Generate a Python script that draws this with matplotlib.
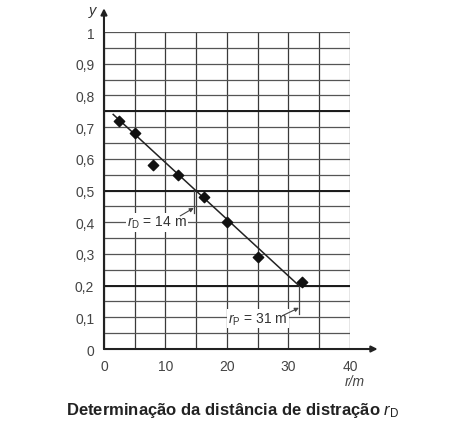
import numpy as np
import matplotlib.pyplot as plt

plt.rcParams['font.family'] = ['Liberation Sans', 'DejaVu Sans']
plt.rcParams['mathtext.fontset'] = 'custom'
plt.rcParams['mathtext.rm'] = 'Liberation Sans'
plt.rcParams['mathtext.it'] = 'Liberation Sans:italic'
plt.rcParams['mathtext.bf'] = 'Liberation Sans:bold'

# measured points
r_pts = [2.5, 5, 8, 12, 16.2, 20, 25, 32.2]
y_pts = [0.72, 0.68, 0.58, 0.55, 0.48, 0.40, 0.29, 0.21]

# fitted line ends
line_r = [1.5, 31.7]
line_y = [0.74, 0.20]

x_ticks = [0, 10, 20, 30, 40]
y_ticks = [0, 0.1, 0.2, 0.3, 0.4, 0.5, 0.6, 0.7, 0.8, 0.9, 1.0]
y_labels = ['0', '0,1', '0,2', '0,3', '0,4', '0,5', '0,6', '0,7', '0,8', '0,9', '1']
thick_y = [0.2, 0.5, 0.75]

r_D = 14.6
r_P = 31.7

fig = plt.figure(figsize=(4.69, 4.39), dpi=100)
ax = fig.add_axes([0.2217, 0.2027, 0.5245, 0.7221])

for xv in np.arange(0, 41, 5):
    ax.axvline(xv, color='#3a3a3a', lw=0.9, zorder=1)
for yv in np.arange(0, 1.001, 0.05):
    ax.axhline(yv, color='#555555', lw=0.9, zorder=1)
for yv in thick_y:
    ax.axhline(yv, color='#1a1a1a', lw=1.4, zorder=1)

ax.set_xlim(0, 40)
ax.set_ylim(0, 1)
for s in ax.spines.values():
    s.set_visible(False)

ax.set_xticks(x_ticks)
ax.set_yticks(y_ticks)
ax.set_yticklabels(y_labels)
ax.tick_params(length=0, labelsize=10, colors='#444444', pad=7)

# axes with arrows
ax.annotate('', xy=(44.5, 0), xytext=(0, 0), annotation_clip=False,
            arrowprops=dict(arrowstyle='-|>', color='#222222', lw=1.5,
                            mutation_scale=9, shrinkA=0, shrinkB=0))
ax.annotate('', xy=(0, 1.075), xytext=(0, 0), annotation_clip=False,
            arrowprops=dict(arrowstyle='-|>', color='#222222', lw=1.5,
                            mutation_scale=9, shrinkA=0, shrinkB=0))
ax.text(-1.2, 1.07, 'y', style='italic', fontsize=10.5, color='#333333',
        ha='right', va='center')
ax.text(40.8, -0.1, 'r/m', style='italic', fontsize=10, color='#444444',
        ha='center', va='center')

ax.plot(line_r, line_y, color='#222222', lw=1.1, zorder=3)
ax.scatter(r_pts, y_pts, marker='D', s=28, color='#111111', zorder=4)

# r_D marker
ax.plot([r_D, r_D], [0.5, 0.43], color='#444444', lw=0.9, zorder=3)
ax.text(8.6, 0.40, r'$r_{\mathrm{D}}$ = 14 m', fontsize=10, color='#333333',
        ha='center', va='center', zorder=5,
        bbox=dict(facecolor='white', edgecolor='none', pad=1))
ax.annotate('', xy=(r_D, 0.445), xytext=(12.4, 0.42),
            arrowprops=dict(arrowstyle='-|>', color='#444444', lw=0.8,
                            mutation_scale=6, shrinkA=0, shrinkB=0), zorder=5)

# r_P marker
ax.plot([r_P, r_P], [0.2, 0.11], color='#444444', lw=0.9, zorder=3)
ax.text(25.0, 0.095, r'$r_{\mathrm{P}}$ = 31 m', fontsize=10, color='#333333',
        ha='center', va='center', zorder=5,
        bbox=dict(facecolor='white', edgecolor='none', pad=1))
ax.annotate('', xy=(r_P, 0.13), xytext=(29.0, 0.105),
            arrowprops=dict(arrowstyle='-|>', color='#444444', lw=0.8,
                            mutation_scale=6, shrinkA=0, shrinkB=0), zorder=5)

fig.text(0.497, 0.065, r'Determinação da distância de distração $\mathit{r}_{\mathrm{D}}$',
         ha='center', va='center', fontsize=12, fontweight='bold', color='#222222')

fig.savefig('out.png', dpi=100)
